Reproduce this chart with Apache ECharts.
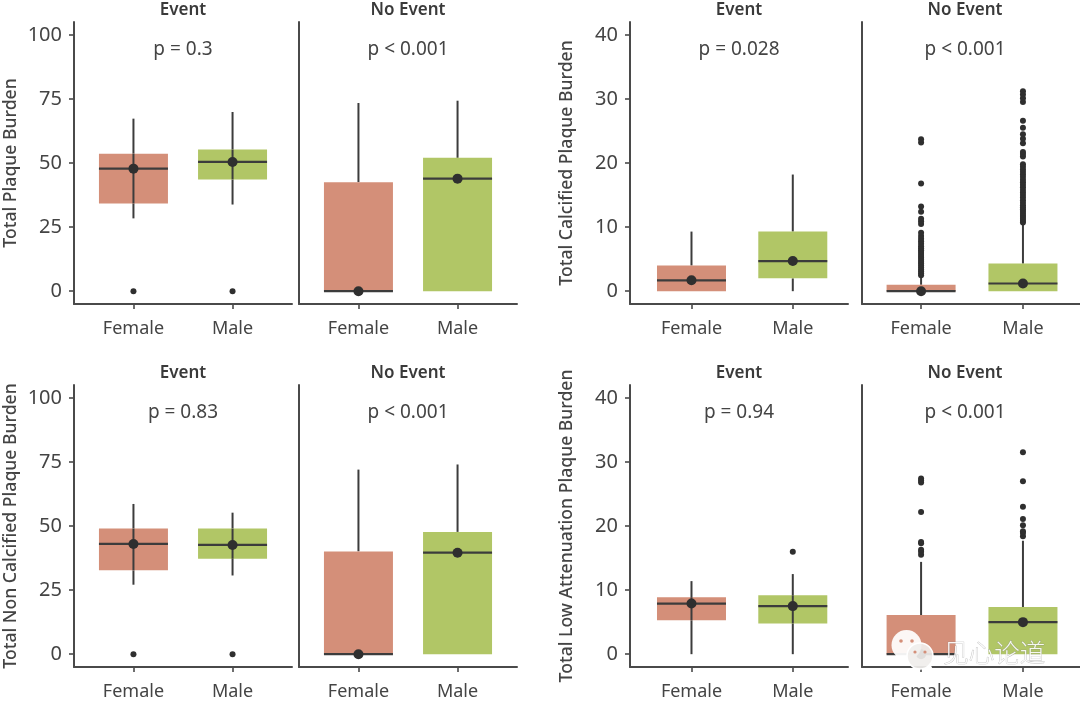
<!DOCTYPE html>
<html>
<head>
<meta charset="utf-8">
<style>
html, body { margin: 0; padding: 0; background: #fff; }
#chart { width: 1080px; height: 701px; }
</style>
<script src="https://cdn.jsdelivr.net/npm/echarts@6/dist/echarts.min.js"></script>
</head>
<body>
<div id="chart"></div>
<script>
var sexNames = ['Female', 'Male'];
var plaqueTicks = [0, 25, 50, 75, 100];
var burdenTicks = [0, 10, 20, 30, 40];

// each box: [whisker low, q1, median, q3, whisker high]
var totalEvent = [[28.4, 34.2, 47.8, 53.6, 67.3], [33.8, 43.6, 50.4, 55.3, 69.9]];
var totalNoEvent = [[0, 0, 0, 42.5, 73.4], [0, 0, 43.9, 52, 74.3]];
var calcEvent = [[0, 0, 1.7, 4, 9.3], [0, 2, 4.7, 9.3, 18.2]];
var calcNoEvent = [[0, 0, 0, 1, 2.45], [0, 0, 1.2, 4.3, 10.6]];
var nonCalcEvent = [[27.1, 32.7, 43, 49, 58.6], [30.7, 37.2, 42.6, 49, 55.2]];
var nonCalcNoEvent = [[0, 0, 0, 40.1, 72], [0, 0, 39.6, 47.7, 74]];
var lowEvent = [[0, 5.3, 7.9, 8.9, 11.4], [0, 4.8, 7.5, 9.2, 12.5]];
var lowNoEvent = [[0, 0, 0, 6.1, 14.4], [0, 0, 5, 7.35, 17.7]];

// outliers, female then male
var totalEventOut = [[0], [0]];
var nonCalcEventOut = [[0], [0]];
var calcNoEventOut = [
    [2.5, 2.8, 3.1, 3.4, 3.7, 4, 4.3, 4.6, 4.9, 5.2, 5.5, 5.8, 6.1, 6.4, 6.7, 7, 7.4, 7.8, 8.2, 8.6, 9.1, 10.5, 10.9, 11.3, 12.4, 13.2, 16.8, 23.2, 23.7],
    [10.7, 11, 11.3, 11.6, 11.9, 12.2, 12.5, 12.8, 13.1, 13.4, 13.8, 14.2, 14.6, 15, 15.4, 15.8, 16.2, 16.6, 17, 17.4, 17.8, 18.2, 18.6, 19, 19.4, 19.8, 21, 21.4, 21.7, 23.1, 23.8, 24.5, 25.5, 26.6, 29.5, 30.1, 30.7, 31.2]
];
var lowEventOut = [[], [16]];
var lowNoEventOut = [
    [15.5, 16, 16.3, 17.3, 17.5, 22.2, 26.8, 27.1, 27.4],
    [18.4, 18.9, 19.2, 20.1, 21.1, 23, 27, 31.5]
];

var pTexts = ['p = 0.3', 'p < 0.001', 'p = 0.028', 'p < 0.001', 'p = 0.83', 'p < 0.001', 'p = 0.94', 'p < 0.001'];
var panelTitles = ['Event', 'No Event', 'Event', 'No Event', 'Event', 'No Event', 'Event', 'No Event'];
var yNames = ['Total Plaque Burden', '', 'Total Calcified Plaque Burden', '', 'Total Non Calcified Plaque Burden', '', 'Total Low Attenuation Plaque Burden', ''];

var boxColors = ['#D48F79', '#B1C666'];
var lineColor = '#3c3c3c';
var axisColor = '#4a4a4a';
var textColor = '#444444';
var fontName = '"Noto Sans", sans-serif';
var boxPx = 69;

var panels = [
    { boxes: totalEvent, out: totalEventOut, through: true, left: 74, top: 22, w: 218, xMin: 0.4, xMax: 2.6, ticks: plaqueTicks, min: -5, max: 105 },
    { boxes: totalNoEvent, out: [[], []], through: false, left: 299, top: 22, w: 218, xMin: 0.4, xMax: 2.6, ticks: null, min: -5, max: 105 },
    { boxes: calcEvent, out: [[], []], through: false, left: 630, top: 22, w: 218, xMin: 0.393, xMax: 2.545, ticks: burdenTicks, min: -2, max: 42 },
    { boxes: calcNoEvent, out: calcNoEventOut, through: false, left: 862, top: 22, w: 218, xMin: 0.42, xMax: 2.56, ticks: null, min: -2, max: 42 },
    { boxes: nonCalcEvent, out: nonCalcEventOut, through: true, left: 74, top: 385, w: 218, xMin: 0.4, xMax: 2.6, ticks: plaqueTicks, min: -5, max: 105 },
    { boxes: nonCalcNoEvent, out: [[], []], through: false, left: 299, top: 385, w: 218, xMin: 0.4, xMax: 2.6, ticks: null, min: -5, max: 105 },
    { boxes: lowEvent, out: lowEventOut, through: true, left: 630, top: 385, w: 218, xMin: 0.393, xMax: 2.545, ticks: burdenTicks, min: -2, max: 42 },
    { boxes: lowNoEvent, out: lowNoEventOut, through: false, left: 862, top: 385, w: 218, xMin: 0.42, xMax: 2.56, ticks: null, min: -2, max: 42 }
];

var grids = [], xAxes = [], yAxes = [], series = [], titles = [];
var panelH = 282;

// box, median line and whiskers of one row
function renderBox(through) {
    return function (params, api) {
        var x = api.value(0);
        var low = api.coord([x, api.value(1)]);
        var q1 = api.coord([x, api.value(2)]);
        var med = api.coord([x, api.value(3)]);
        var q3 = api.coord([x, api.value(4)]);
        var high = api.coord([x, api.value(5)]);
        var half = boxPx / 2;
        var line = { stroke: lineColor, lineWidth: 2 };
        var children = [
            { type: 'line', shape: { x1: high[0], y1: high[1], x2: q3[0], y2: q3[1] }, style: line },
            { type: 'line', shape: { x1: low[0], y1: low[1], x2: q1[0], y2: q1[1] }, style: line },
            { type: 'rect', shape: { x: q3[0] - half, y: q3[1], width: half * 2, height: q1[1] - q3[1] }, style: { fill: boxColors[x - 1] } },
            { type: 'line', shape: { x1: med[0] - half, y1: med[1], x2: med[0] + half, y2: med[1] }, style: { stroke: lineColor, lineWidth: 2.2 } }
        ];
        if (through) {
            children.push({ type: 'line', shape: { x1: q1[0], y1: q1[1], x2: q3[0], y2: q3[1] }, style: line });
        }
        return { type: 'group', children: children };
    };
}

panels.forEach(function (p, i) {
    grids.push({ left: p.left, top: p.top, width: p.w, height: panelH });
    xAxes.push({
        type: 'value', gridIndex: i, min: p.xMin, max: p.xMax,
        splitLine: { show: false },
        axisLine: { show: true, onZero: false, lineStyle: { color: axisColor, width: 2 } },
        axisTick: { show: true, length: 5, customValues: [1, 2], lineStyle: { color: axisColor, width: 1.6 } },
        axisLabel: {
            customValues: [1, 2], margin: 16, color: textColor, fontFamily: fontName, fontSize: 18,
            formatter: function (v) { return sexNames[v - 1]; }
        }
    });
    yAxes.push({
        type: 'value', gridIndex: i, min: p.min, max: p.max,
        name: yNames[i], nameLocation: 'middle', nameGap: 54,
        nameTextStyle: { color: textColor, fontFamily: fontName, fontSize: 17.6, fontWeight: 500 },
        splitLine: { show: false },
        axisLine: { show: true, onZero: false, lineStyle: { color: axisColor, width: 2 } },
        axisTick: { show: !!p.ticks, length: 5, customValues: p.ticks || [], lineStyle: { color: axisColor, width: 1.6 } },
        axisLabel: { show: !!p.ticks, customValues: p.ticks || [], margin: 12, color: textColor, fontFamily: fontName, fontSize: 20 }
    });

    var rows = p.boxes.map(function (b, k) { return [k + 1].concat(b); });
    series.push({
        type: 'custom', xAxisIndex: i, yAxisIndex: i, data: rows, z: 2,
        encode: { x: 0, y: [1, 2, 3, 4, 5] },
        renderItem: renderBox(p.through)
    });
    series.push({
        type: 'scatter', xAxisIndex: i, yAxisIndex: i, symbolSize: 10, z: 4, clip: false,
        itemStyle: { color: '#2f2f2f', opacity: 1 },
        data: p.boxes.map(function (b, k) { return [k + 1, b[2]]; })
    });
    var outRows = [];
    p.out.forEach(function (vals, k) {
        vals.forEach(function (v) { outRows.push([k + 1, v]); });
    });
    series.push({
        type: 'scatter', xAxisIndex: i, yAxisIndex: i, symbolSize: 6, z: 3,
        itemStyle: { color: '#2f2f2f', opacity: 1 },
        data: outRows
    });

    var cx = p.left + p.w / 2 - (i % 4 === 3 ? 6 : 0);
    titles.push({
        text: panelTitles[i], left: cx, top: p.top - 20, textAlign: 'center', padding: 0,
        textStyle: { color: '#3a3a3a', fontFamily: fontName, fontSize: 17, fontWeight: 600 }
    });
    titles.push({
        text: pTexts[i], left: cx, top: p.top + 18, textAlign: 'center', padding: 0,
        textStyle: { color: textColor, fontFamily: fontName, fontSize: 19, fontWeight: 400 }
    });
});

var myChart = echarts.init(document.getElementById('chart'), null, { renderer: 'canvas' });
myChart.setOption({
    backgroundColor: '#fff',
    animation: false,
    title: titles,
    grid: grids,
    xAxis: xAxes,
    yAxis: yAxes,
    series: series,
    // 水印
    graphic: [
        { type: 'circle', z: 20, shape: { cx: 906.5, cy: 645, r: 15 }, style: { fill: 'rgba(255,255,255,0.93)' } },
        { type: 'polygon', z: 20, shape: { points: [[896, 655], [893, 663], [903, 659]] }, style: { fill: 'rgba(255,255,255,0.93)' } },
        { type: 'circle', z: 20, shape: { cx: 901, cy: 641, r: 1.8 }, style: { fill: '#D48F79' } },
        { type: 'circle', z: 20, shape: { cx: 912, cy: 641, r: 1.8 }, style: { fill: '#D48F79' } },
        { type: 'circle', z: 21, shape: { cx: 920, cy: 656, r: 13 }, style: { fill: 'rgba(240,238,235,0.92)', stroke: '#fff', lineWidth: 1.5 } },
        { type: 'polygon', z: 21, shape: { points: [[926, 668], [933, 670], [930, 663]] }, style: { fill: '#fff' } },
        { type: 'circle', z: 22, shape: { cx: 915, cy: 652, r: 1.6 }, style: { fill: '#D48F79' } },
        { type: 'circle', z: 22, shape: { cx: 925, cy: 652, r: 1.6 }, style: { fill: '#D48F79' } },
        {
            type: 'text', z: 22, left: 943, top: 639,
            style: { text: '见心论道', fill: 'rgba(255,255,255,0.9)', stroke: 'rgba(130,130,130,0.55)', lineWidth: 0.7, font: '300 25.5px "Noto Sans CJK SC"' }
        }
    ]
});
</script>
</body>
</html>
